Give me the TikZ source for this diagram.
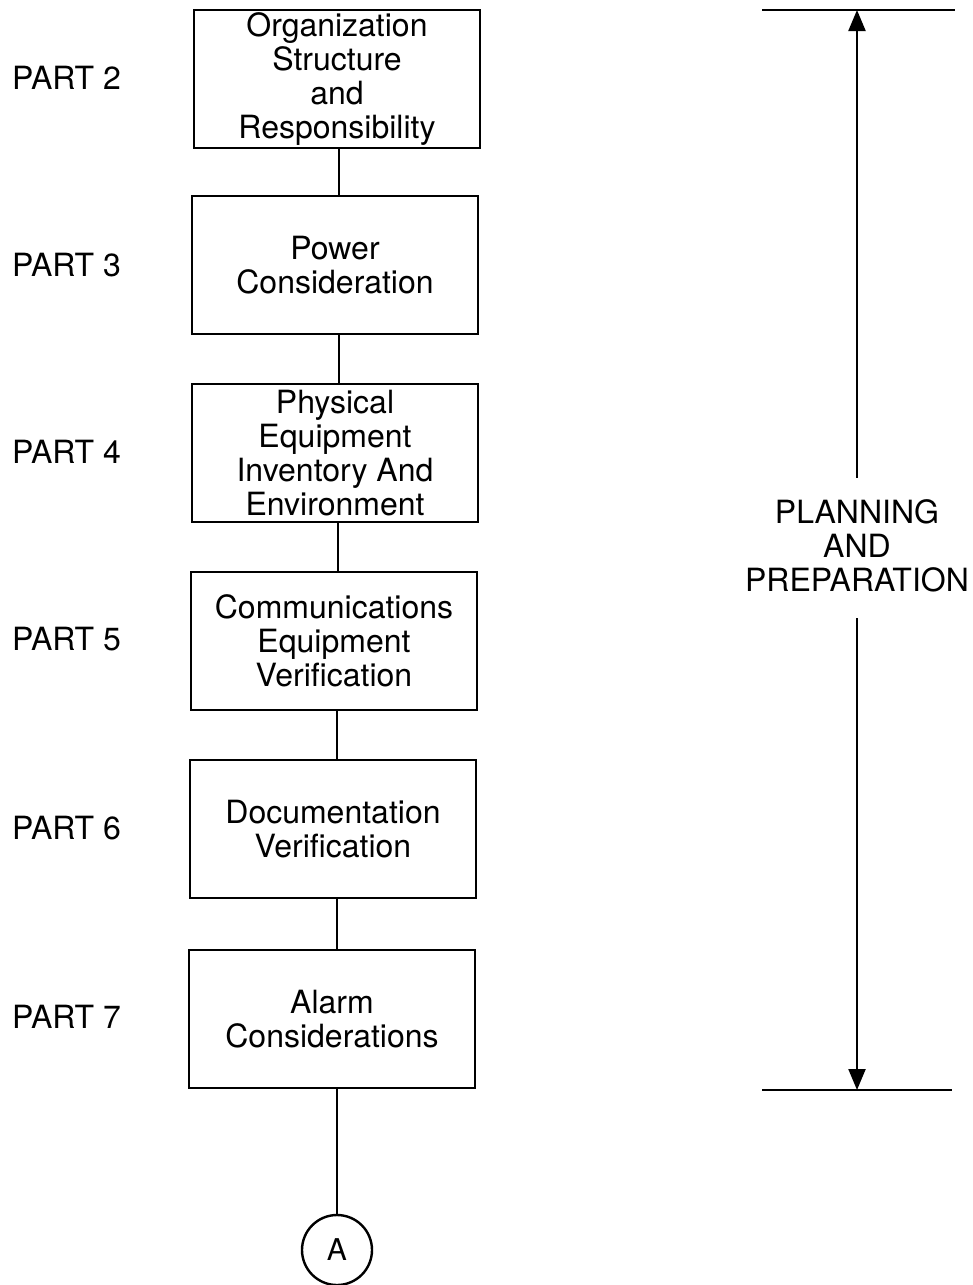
\documentclass[tikz,border=0pt]{standalone}
\usepackage{fontspec}
\setmainfont{TeX Gyre Heros}
\usetikzlibrary{positioning,arrows.meta}
\tikzstyle{part} = [rectangle, draw=black, line width=2pt, minimum width=286pt, minimum height=138pt, align=center, text centered, font=\fontsize{32}{34}\selectfont, inner sep=0pt]
\tikzstyle{label} = [font=\fontsize{32}{34}\selectfont, anchor=west, inner sep=0pt]
\tikzstyle{link} = [line width=2pt]
\tikzstyle{arrow} = [line width=2.2pt,-{Triangle[length=21pt,width=17pt]}]

\begin{document}
\begin{tikzpicture}[x=1pt,y=-1pt]
	\useasboundingbox (0,0) rectangle (973,1285);
	% boxes of the flow
	\node[part] (org) at (337,79) {Organization\\Structure\\and\\Responsibility};
	\node[part] (power) at (335,265) {Power\\Consideration};
	\node[part] (phys) at (335,453) {Physical\\Equipment\\Inventory And\\Environment};
	\node[part] (comm) at (334,641) {Communications\\Equipment\\Verification};
	\node[part] (doc) at (333,829) {Documentation\\Verification};
	\node[part] (alarm) at (332,1019) {Alarm\\Considerations};
	\node[circle, draw, line width=2.4pt, minimum size=70pt, inner sep=0pt, font=\fontsize{30}{32}\selectfont] (conA) at (337,1250) {A};
	% part numbers
	\node[label] (p2) at (12,78) {PART 2};
	\node[label] (p3) at (12,265) {PART 3};
	\node[label] (p4) at (12,452) {PART 4};
	\node[label] (p5) at (12,639) {PART 5};
	\node[label] (p6) at (12,828) {PART 6};
	\node[label] (p7) at (12,1017) {PART 7};
	% connectors
	\draw[link] (org.south-|339,0) -- (power.north-|339,0);
	\draw[link] (power.south-|339,0) -- (phys.north-|339,0);
	\draw[link] (phys.south-|338,0) -- (comm.north-|338,0);
	\draw[link] (comm.south-|337,0) -- (doc.north-|337,0);
	\draw[link] (doc.south-|337,0) -- (alarm.north-|337,0);
	\draw[link] (alarm.south-|337,0) -- (conA.north);
	% span on the right
	\coordinate (top) at (857,10);
	\coordinate (bot) at (857,1090);
	\draw[line width=2.6pt] (762,10) -- (top) -- (955,10);
	\draw[line width=2.6pt] (762,1090) -- (bot) -- (952,1090);
	\node[font=\fontsize{32}{34}\selectfont, align=center, inner sep=0pt] (plan) at (857,546) {PLANNING\\AND\\PREPARATION};
	\draw[arrow] ([yshift=22pt]plan.north) -- (top);
	\draw[arrow] ([yshift=-26pt]plan.south) -- (bot);
\end{tikzpicture}
\end{document}
